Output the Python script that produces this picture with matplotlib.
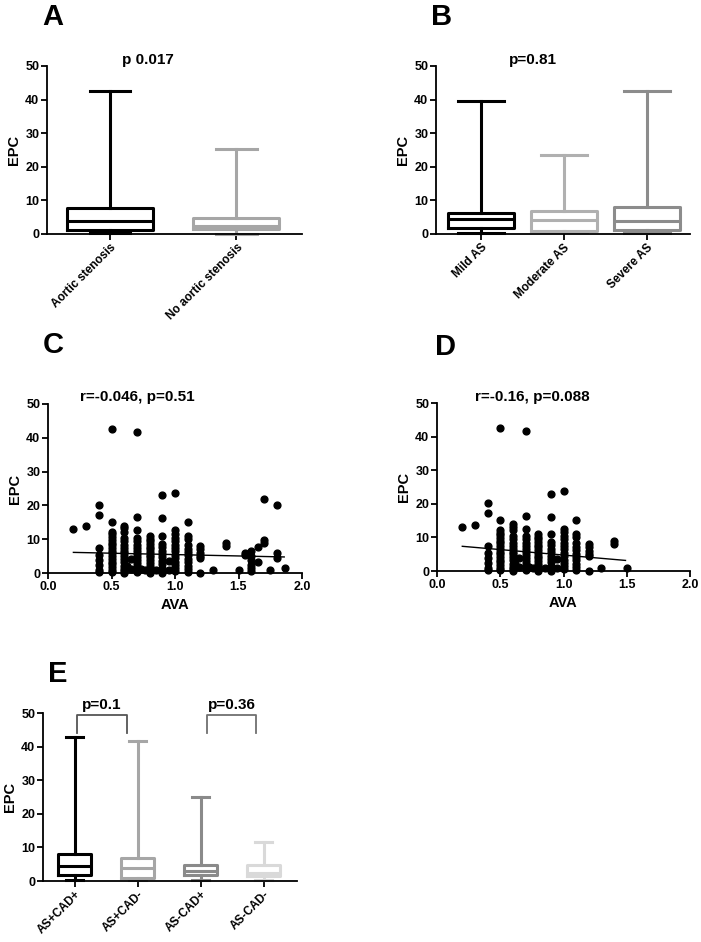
import matplotlib
matplotlib.use("Agg")
import matplotlib.pyplot as plt
import numpy as np

plt.rcParams['font.family'] = ['Liberation Sans', 'DejaVu Sans']
plt.rcParams['font.weight'] = 'bold'

# ---- data ----
# panel A
cats_a = ['Aortic stenosis', 'No aortic stenosis']
lo_a = [0.2, 0.1]
q1_a = [1.3, 1.6]
med_a = [4.0, 2.3]
q3_a = [7.6, 4.8]
hi_a = [42.7, 25.2]
col_a = ['#000000', '#a6a6a6']

# panel B
cats_b = ['Mild AS', 'Moderate AS', 'Severe AS']
lo_b = [0.3, 0.5, 0.3]
q1_b = [1.7, 1.0, 1.3]
med_b = [4.4, 4.2, 3.9]
q3_b = [6.3, 6.8, 8.0]
hi_b = [39.5, 23.6, 42.7]
col_b = ['#000000', '#b0b0b0', '#8c8c8c']

# panel E
cats_e = ['AS+CAD+', 'AS+CAD-', 'AS-CAD+', 'AS-CAD-']
lo_e = [0.2, 0.4, 0.2, 0.2]
q1_e = [1.8, 1.0, 1.8, 1.5]
med_e = [4.5, 3.9, 3.0, 2.3]
q3_e = [8.0, 6.8, 4.9, 4.8]
hi_e = [42.8, 41.8, 25.1, 11.7]
col_e = ['#000000', '#a6a6a6', '#8a8a8a', '#d9d9d9']

# scatter: AVA columns and the EPC values in each column
ava_cols = [0.2, 0.3, 0.4, 0.5, 0.6, 0.62, 0.65, 0.7, 0.73, 0.76, 0.8, 0.85,
            0.9, 0.95, 1.0, 1.1, 1.2, 1.3, 1.4, 1.5, 1.55, 1.6, 1.65, 1.7,
            1.75, 1.8, 1.87]
epc_cols = [
    [13.0],
    [13.8],
    [20.1, 17.2, 7.4, 5.3, 3.8, 2.4, 0.9, 0.2],
    [42.7, 15.2, 12.2, 11.4, 10.6, 9.8, 9.0, 8.2, 7.4, 6.6, 5.8, 5.0, 4.2,
     3.4, 2.6, 1.8, 1.0, 0.3],
    [14.0, 13.2, 12.2, 10.4, 9.4, 8.4, 7.4, 6.6, 5.8, 5.0, 4.2, 3.2, 2.2,
     1.3, 0.5, 0.0],
    [2.2],
    [4.0, 1.2],
    [41.8, 16.5, 12.6, 10.4, 9.4, 8.4, 7.4, 6.5, 5.6, 4.7, 3.8, 2.9, 2.0,
     1.2, 0.4],
    [1.3],
    [1.0],
    [11.0, 10.2, 9.4, 8.6, 7.8, 7.0, 6.2, 5.4, 4.6, 3.8, 3.0, 2.2, 1.4,
     0.6, 0.0],
    [1.0],
    [23.0, 16.2, 10.9, 8.6, 7.6, 6.6, 5.6, 4.6, 3.6, 2.6, 1.6, 0.6, 0.0],
    [3.5, 0.8],
    [23.8, 12.6, 11.6, 10.4, 9.4, 8.4, 7.4, 6.4, 5.4, 4.4, 3.4, 2.4, 1.4,
     0.5],
    [15.1, 11.0, 10.0, 8.2, 7.2, 6.2, 5.2, 4.2, 3.2, 2.2, 1.2, 0.3],
    [8.0, 7.0, 6.0, 5.0, 4.4, 0.0],
    [0.8],
    [8.8, 8.0],
    [1.0],
    [6.0, 5.4],
    [6.5, 5.0, 3.8, 2.5, 1.5, 0.5],
    [7.8, 3.3],
    [22.0, 9.8, 9.0],
    [1.0],
    [20.1, 6.0, 4.5],
    [1.5],
]
# fitted lines (end points)
fit_c_x = [0.2, 1.86]
fit_c_y = [6.1, 4.75]
fit_d_x = [0.2, 1.49]
fit_d_y = [7.35, 3.15]

ava = np.concatenate([[x] * len(ys) for x, ys in zip(ava_cols, epc_cols)])
epc = np.concatenate(epc_cols)

W, H = 701, 942
fig = plt.figure(figsize=(W / 100, H / 100), dpi=100)


def add_ax(l, r, y0, y50):
    return fig.add_axes([l / W, 1 - y0 / H, (r - l) / W, (y0 - y50) / H])


def style(ax):
    for s in ['top', 'right']:
        ax.spines[s].set_visible(False)
    for s in ['left', 'bottom']:
        ax.spines[s].set_linewidth(1.3)
    ax.set_ylim(0, 50)
    ax.set_yticks([0, 10, 20, 30, 40, 50])
    ax.tick_params(width=1.3, length=4, labelsize=9, pad=1.5)
    ax.set_ylabel('EPC', fontsize=10.5, fontweight='bold', labelpad=3)
    for lab in ax.get_yticklabels() + ax.get_xticklabels():
        lab.set_fontweight('bold')


def boxes(ax, lo, q1, med, q3, hi, cols, width, cap):
    stats = [dict(whislo=a, q1=b, med=c, q3=d, whishi=e)
             for a, b, c, d, e in zip(lo, q1, med, q3, hi)]
    for i, (st, c) in enumerate(zip(stats, cols)):
        art = ax.bxp([st], positions=[i], widths=width, showfliers=False,
                     capwidths=cap, manage_ticks=False,
                     boxprops=dict(color=c, linewidth=2.2),
                     medianprops=dict(color=c, linewidth=2.2),
                     whiskerprops=dict(color=c, linewidth=2.2),
                     capprops=dict(color=c, linewidth=2.2))
        for k in art:
            for a in art[k]:
                a.set_clip_on(False)


def cat_labels(ax, cats):
    ax.set_xticks(range(len(cats)))
    ax.set_xticklabels(cats, rotation=45, ha='right', rotation_mode='anchor',
                       fontsize=8.5, fontweight='bold')


def letter(x, y, s):
    fig.text(x / W, 1 - y / H, s, fontsize=21, fontweight='bold',
             ha='left', va='baseline')


# ---- A ----
ax = add_ax(47, 302, 234, 66)
boxes(ax, lo_a, q1_a, med_a, q3_a, hi_a, col_a, 0.68, 0.32)
ax.set_xlim(-0.5, 1.52)
style(ax)
cat_labels(ax, cats_a)
fig.text(148 / W, 1 - 60 / H, 'p 0.017', fontsize=11, fontweight='bold',
         ha='center', va='center')
letter(42, 25, 'A')

# ---- B ----
ax = add_ax(436, 690, 234, 66)
boxes(ax, lo_b, q1_b, med_b, q3_b, hi_b, col_b, 0.8, 0.56)
ax.set_xlim(-0.54, 2.52)
style(ax)
cat_labels(ax, cats_b)
fig.text(533 / W, 1 - 60 / H, 'p=0.81', fontsize=11, fontweight='bold',
         ha='center', va='center')
letter(431, 25, 'B')

# ---- C ----
ax = add_ax(48, 302, 573, 404)
ax.scatter(ava, epc, s=24, color='black', clip_on=False, zorder=3)
ax.plot(fit_c_x, fit_c_y, color='black', linewidth=1.0)
ax.set_xlim(0, 2)
ax.set_xticks([0.0, 0.5, 1.0, 1.5, 2.0])
ax.set_xticklabels(['0.0', '0.5', '1.0', '1.5', '2.0'])
ax.set_xlabel('AVA', fontsize=10.5, fontweight='bold', labelpad=4)
style(ax)
fig.text(137 / W, 1 - 397 / H, 'r=-0.046, p=0.51', fontsize=11,
         fontweight='bold', ha='center', va='center')
letter(43, 353, 'C')

# ---- D ----
m = ava <= 1.5
ax = add_ax(437, 690, 571, 403)
ax.scatter(ava[m], epc[m], s=24, color='black', clip_on=False, zorder=3)
ax.plot(fit_d_x, fit_d_y, color='black', linewidth=1.0)
ax.set_xlim(0, 2)
ax.set_xticks([0.0, 0.5, 1.0, 1.5, 2.0])
ax.set_xticklabels(['0.0', '0.5', '1.0', '1.5', '2.0'])
ax.set_xlabel('AVA', fontsize=10.5, fontweight='bold', labelpad=4)
style(ax)
fig.text(532 / W, 1 - 397 / H, 'r=-0.16, p=0.088', fontsize=11,
         fontweight='bold', ha='center', va='center')
letter(435, 355, 'D')

# ---- E ----
ax = add_ax(43, 297, 881, 713)
boxes(ax, lo_e, q1_e, med_e, q3_e, hi_e, col_e, 0.52, 0.27)
ax.set_xlim(-0.5, 3.53)
style(ax)
cat_labels(ax, cats_e)
brackets = [(0.04, 0.83, 'p=0.1', '#555555'), (2.1, 2.88, 'p=0.36', '#707070')]
for x1, x2, txt, c in brackets:
    ax.plot([x1, x1, x2, x2], [44.0, 49.4, 49.4, 44.0], color=c,
            linewidth=1.3, clip_on=False)
    ax.text((x1 + x2) / 2, 50.3, txt, fontsize=11, fontweight='bold',
            ha='center', va='bottom')
letter(48, 682, 'E')

fig.savefig('out.png', dpi=100)
